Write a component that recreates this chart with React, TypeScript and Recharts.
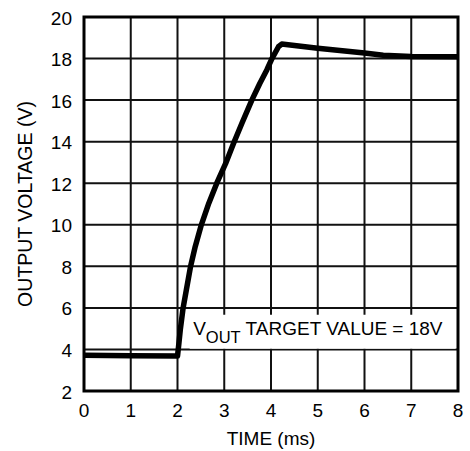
import React from "react";
import {
  LineChart,
  Line,
  XAxis,
  YAxis,
  CartesianGrid,
  ReferenceArea,
  Label,
} from "recharts";

const timeMs = [0, 1, 2.0, 2.03, 2.06, 2.12, 2.19, 2.28, 2.38, 2.51, 2.67, 2.84, 3.03, 3.2, 3.38, 3.59, 3.76, 3.91, 4.02, 4.16, 4.23, 5, 6, 6.4, 7, 8];
const outputV = [3.72, 3.7, 3.68, 4.3, 4.95, 6.0, 6.87, 8.0, 8.96, 10.0, 11.04, 12.0, 12.95, 13.92, 14.9, 16.0, 16.8, 17.45, 18.0, 18.57, 18.7, 18.5, 18.27, 18.16, 18.1, 18.09];
const xTicks = [0, 1, 2, 3, 4, 5, 6, 7, 8];
const yTicks = [2, 4, 6, 8, 10, 12, 14, 16, 18, 20];
const annotation = { x1: 2.26, x2: 7.95, y1: 4.03, y2: 5.67 };

const data = timeMs.map((t, i) => ({ t, v: outputV[i] }));

const FONT = "'Liberation Sans', Arial, Helvetica, sans-serif";
const FS = 19;

const XTick = (props: any) => {
  const { x, y, payload } = props;
  return (
    <text x={x} y={y + 26} textAnchor="middle" fontSize={FS} fontFamily={FONT} fill="#000">
      {payload.value}
    </text>
  );
};

const YTick = (props: any) => {
  const { x, y, payload } = props;
  return (
    <text x={x} y={y + 7.5} textAnchor="end" fontSize={FS} fontFamily={FONT} fill="#000">
      {payload.value}
    </text>
  );
};

const XLabel = (props: any) => {
  const vb = props.viewBox;
  return (
    <text x={vb.x + vb.width / 2} y={vb.y + 54} textAnchor="middle" fontSize={FS} fontFamily={FONT} fill="#000">
      TIME (ms)
    </text>
  );
};

const YLabel = (props: any) => {
  const vb = props.viewBox;
  const cx = 31.5;
  const cy = vb.y + vb.height / 2;
  return (
    <text
      x={cx}
      y={cy}
      transform={`rotate(-90, ${cx}, ${cy})`}
      textAnchor="middle"
      fontSize={19.5}
      fontFamily={FONT}
      fill="#000"
    >
      OUTPUT VOLTAGE (V)
    </text>
  );
};

const AnnoLabel = (props: any) => {
  const vb = props.viewBox;
  return (
    <text x={vb.x + 3.5} y={vb.y + 20} fontSize={FS} fontFamily={FONT} fill="#000">
      <tspan>V</tspan>
      <tspan fontSize={16.5} dy={8}>OUT</tspan>
      <tspan fontSize={FS} dy={-8}> TARGET VALUE = 18V</tspan>
    </text>
  );
};

export default function App() {
  return (
    <div style={{ position: "absolute", left: 0, top: 0, width: 470, height: 451, background: "#fff" }}>
      <LineChart width={470} height={451} data={data} margin={{ top: 17, right: 12, bottom: 10, left: 0 }}>
        <CartesianGrid stroke="#111" strokeWidth={2} fill="#fff" />
        <XAxis
          type="number"
          dataKey="t"
          domain={[0, 8]}
          ticks={xTicks}
          axisLine={false}
          tickLine={false}
          tickSize={0}
          tickMargin={0}
          height={50}
          tick={<XTick />}
          interval={0}
        >
          <Label content={<XLabel />} />
        </XAxis>
        <YAxis
          type="number"
          domain={[2, 20]}
          ticks={yTicks}
          axisLine={false}
          tickLine={false}
          tickSize={0}
          tickMargin={12}
          width={84}
          tick={<YTick />}
          interval={0}
        >
          <Label content={<YLabel />} />
        </YAxis>
        <ReferenceArea
          x1={annotation.x1}
          x2={annotation.x2}
          y1={annotation.y1}
          y2={annotation.y2}
          fill="#fff"
          fillOpacity={1}
          stroke="none"
          label={<AnnoLabel />}
        />
        <Line
          type="linear"
          dataKey="v"
          stroke="#000"
          strokeWidth={5.5}
          dot={false}
          activeDot={false}
          isAnimationActive={false}
          strokeLinejoin="round"
        />
        <ReferenceArea
          x1={0}
          x2={8}
          y1={2}
          y2={20}
          fill="none"
          stroke="#000"
          strokeWidth={3}
          ifOverflow="visible"
        />
      </LineChart>
    </div>
  );
}
